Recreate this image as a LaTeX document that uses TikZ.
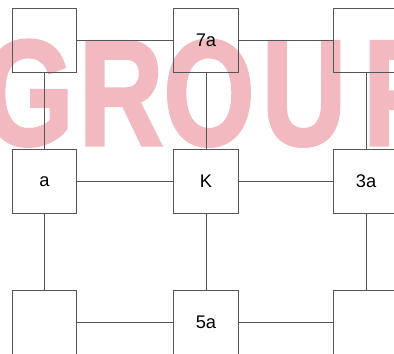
\documentclass[tikz,border=0pt]{standalone}
\usepackage{fontspec}
\setsansfont{Liberation Sans}
\newfontfamily\markfont[FakeBold=2]{Liberation Sans Bold}
\usepackage{tikz}
\usetikzlibrary{positioning}
\definecolor{boxcol}{HTML}{555555}
\definecolor{markcol}{RGB}{242,186,192}

\begin{document}
\begin{tikzpicture}[x=0.025cm,y=0.025cm,
    cell/.style={draw=boxcol,line width=0.6pt,minimum width=1.62cm,minimum height=1.6cm,
      inner sep=0pt,font=\sffamily\fontsize{13}{15}\selectfont},
    wmark/.style={text=markcol,anchor=base,xscale=0.78,inner sep=0pt,
      font=\markfont\fontsize{107}{110}\selectfont}]
  \clip (0,0) rectangle (394,354);
  % watermark
  \node[wmark] (wmG) at (28,209) {G};
  \node[wmark] (wmR) at (121,209) {R};
  \node[wmark] (wmO) at (209,209) {O};
  \node[wmark] (wmU) at (304,209) {U};
  \node[wmark] (wmP) at (402,209) {P};
  % boxes
  \node[cell] (tl) at (44.5,314) {};
  \node[cell] (tc) at (206,314) {7a};
  \node[cell] (tr) at (366,314) {};
  \node[cell] (ml) at (44.5,172.5) {a};
  \node[cell] (mc) at (206,172.5) {K};
  \node[cell] (mr) at (366,172.5) {3a};
  \node[cell] (bl) at (44.5,32) {};
  \node[cell] (bc) at (206,32) {5a};
  \node[cell] (br) at (366,32) {};
  % links
  \draw[boxcol,line width=0.6pt] (tl) -- (tc) (tc) -- (tr);
  \draw[boxcol,line width=0.6pt] (ml) -- (mc) (mc) -- (mr);
  \draw[boxcol,line width=0.6pt] (bl) -- (bc) (bc) -- (br);
  \draw[boxcol,line width=0.6pt] (tl) -- (ml) (ml) -- (bl);
  \draw[boxcol,line width=0.6pt] (tc) -- (mc) (mc) -- (bc);
  \draw[boxcol,line width=0.6pt] (tr) -- (mr) (mr) -- (br);
\end{tikzpicture}
\end{document}
